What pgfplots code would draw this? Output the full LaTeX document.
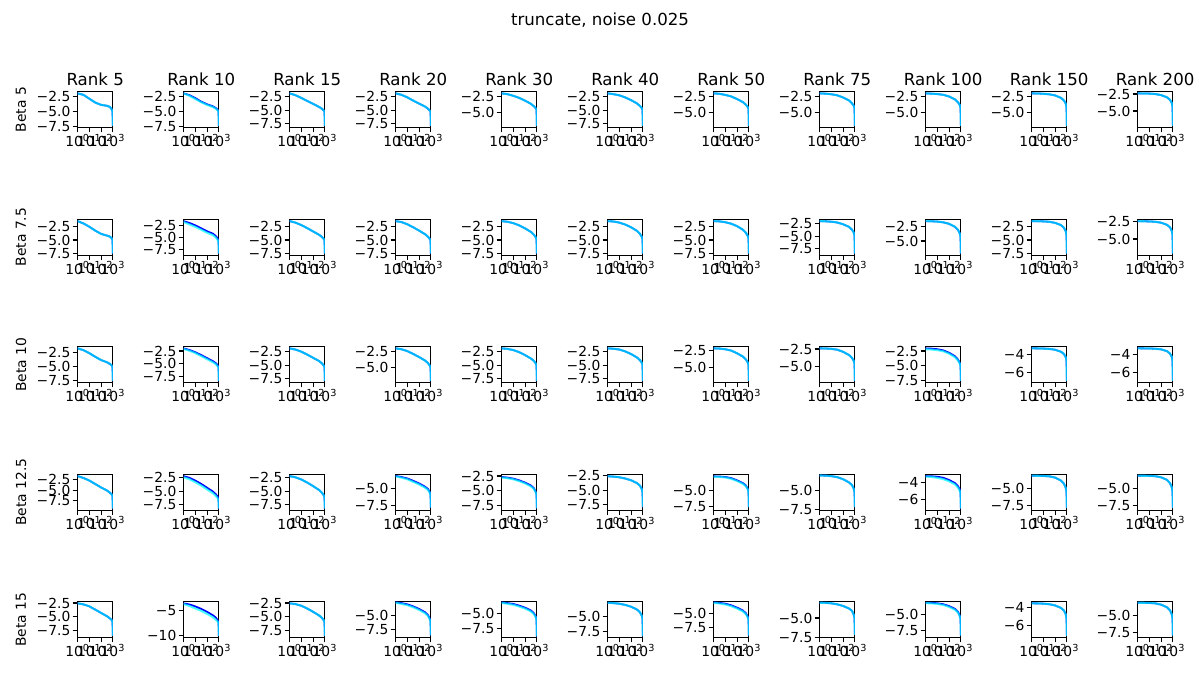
\documentclass[border=0pt]{standalone}
\usepackage{fontspec}
\setmainfont{DejaVu Sans}
\usepackage{pgfplots}
\usepackage{pgfplotstable}
\pgfplotsset{compat=1.18}
\def\pxu{0.7227pt}
\newcommand{\decfmt}[1]{−\pgfmathparse{0-(#1)}\pgfmathprintnumber[fixed,fixed zerofill,precision=1,assume math mode=true]{\pgfmathresult}}
\newcommand{\intfmt}[1]{−\pgfmathparse{0-(#1)}\pgfmathprintnumber[fixed,precision=0,assume math mode=true]{\pgfmathresult}}
\def\D{-10,-7.5,-5,-2.5}
\def\IA{-10,-5}
\def\IB{-8,-6,-4}
% #1 left, #2 top, #3 ymin, #4 ymax, #5 ticks, #6 fmt, #7 table, #8 blue col, #9 cyan col
\newcommand{\sub}[9]{\begin{axis}[anchor=north west, scale only axis, width=25.58pt, height=25.87pt,
    xmode=log, xmin=1, xmax=1000, xtick={1,10,100,1000},
    xticklabels={10\textsuperscript{0},10\textsuperscript{1},10\textsuperscript{2},10\textsuperscript{3}},
    xminorticks=false, yminorticks=false, minor tick length=0pt, minor tick style={draw=none},
    tick align=outside, tick pos=left,
    major tick length=3.5pt, major tick style={black, line width=0.8pt},
    axis line style={line width=0.8pt},
    ticklabel style={font=\fontsize{10}{12}\selectfont},
    xticklabel style={inner sep=1pt},
    yticklabel style={inner sep=1.5pt},
    scaled y ticks=false,
    ytick/.expanded={#5}, yticklabel={#6{\tick}},
    at={({#1*\pxu},{-#2*\pxu})}, ymin=#3, ymax=#4]
\addplot[color={rgb,255:red,0;green,0;blue,255}, line width=1.3pt, line join=round] table[x=x,y=#8] {#7};
\addplot[color={rgb,255:red,0;green,255;blue,255}, opacity=0.7, line width=1.5pt, line join=round] table[x=x,y=#9] {#7};
\end{axis}}

\pgfplotstableread{
x     b0    b1    c1    b2    b3    b4    b5    b6    b7    b8    b9    b10
1     -1.9  -1.9  -1.9  -1.83 -1.83 -1.93 -1.83 -1.93 -1.93 -1.93 -1.93 -2.40
3.162 -2.15 -2.2  -2.3  -2.17 -2.10 -2.06 -1.98 -2.00 -1.98 -1.98 -1.95 -2.42
10    -2.8  -2.7  -2.85 -2.68 -2.58 -2.32 -2.20 -2.18 -2.07 -2.04 -2.0  -2.44
31.62 -3.45 -3.3  -3.4  -3.25 -3.19 -2.65 -2.59 -2.42 -2.24 -2.16 -2.08 -2.50
100   -3.85 -3.75 -3.85 -3.80 -3.76 -3.09 -3.11 -2.84 -2.59 -2.43 -2.26 -2.66
316.2 -4.0  -4.1  -4.2  -4.37 -4.30 -3.60 -3.72 -3.33 -3.06 -2.89 -2.65 -2.99
562.3 -4.2  -4.4  -4.5  -4.71 -4.71 -3.99 -4.21 -3.75 -3.50 -3.35 -3.06 -3.35
794.3 -4.6  -4.7  -4.8  -5.05 -5.05 -4.29 -4.58 -4.09 -3.90 -3.76 -3.54 -3.78
933   -5.0  -4.95 -5.0  -5.22 -5.22 -4.5  -4.88 -4.39 -4.28 -4.22 -4.11 -4.37
1000  -7.39 -7.39 -7.39 -7.93 -7.93 -7.08 -7.93 -7.08 -7.08 -7.08 -7.08 -7.19
}\rA
\pgfplotstableread{
x     b0    b1    c1    b2    b3    b4    b5    b6    b7    b8    b9    b10
1     -1.58 -1.63 -1.8  -1.58 -1.58 -1.58 -1.58 -1.58 -2.09 -1.65 -1.58 -2.48
3.162 -2.0  -2.0  -2.3  -1.85 -1.75 -1.7  -1.65 -1.63 -2.12 -1.67 -1.6  -2.5
10    -2.6  -2.5  -2.8  -2.3  -2.15 -1.95 -1.85 -1.78 -2.2  -1.72 -1.63 -2.52
31.62 -3.3  -3.1  -3.4  -2.85 -2.7  -2.35 -2.2  -2.05 -2.35 -1.85 -1.7  -2.57
100   -3.9  -3.7  -4.0  -3.45 -3.3  -2.9  -2.7  -2.5  -2.7  -2.1  -1.9  -2.7
316.2 -4.2  -4.2  -4.5  -4.05 -3.95 -3.55 -3.35 -3.15 -3.2  -2.6  -2.3  -3.0
562.3 -4.4  -4.7  -5.0  -4.45 -4.4  -4.05 -3.9  -3.7  -3.75 -3.1  -2.8  -3.35
794.3 -4.7  -5.2  -5.5  -4.8  -4.8  -4.5  -4.4  -4.25 -4.3  -3.7  -3.4  -3.85
933   -5.0  -5.6  -5.9  -5.1  -5.1  -4.9  -4.85 -4.75 -4.9  -4.3  -4.2  -4.4
1000  -7.48 -8.27 -8.27 -7.48 -7.48 -7.48 -7.48 -7.48 -8.43 -7.15 -7.48 -7.06
}\rB
\pgfplotstableread{
x     b0    b1    c1    b2    b3    b4    b5    b6    b7    b8    c8    b9    b10
1     -1.67 -1.99 -2.1  -1.83 -1.96 -1.83 -1.83 -2.11 -2.41 -2.06 -2.2  -3.26 -3.26
3.162 -2.0  -2.3  -2.45 -2.05 -2.1  -1.93 -1.9  -2.15 -2.43 -2.1  -2.25 -3.27 -3.27
10    -2.55 -2.75 -2.9  -2.45 -2.4  -2.15 -2.05 -2.25 -2.48 -2.2  -2.35 -3.29 -3.28
31.62 -3.2  -3.3  -3.5  -3.0  -2.85 -2.55 -2.4  -2.45 -2.6  -2.4  -2.55 -3.33 -3.31
100   -3.8  -3.9  -4.1  -3.6  -3.35 -3.1  -2.9  -2.85 -2.9  -2.8  -2.95 -3.42 -3.38
316.2 -4.2  -4.5  -4.7  -4.2  -3.9  -3.75 -3.55 -3.35 -3.35 -3.4  -3.55 -3.65 -3.58
562.3 -4.5  -4.9  -5.1  -4.65 -4.3  -4.2  -4.05 -3.8  -3.75 -3.95 -4.1  -3.9  -3.85
794.3 -4.8  -5.3  -5.5  -5.05 -4.7  -4.65 -4.5  -4.2  -4.15 -4.5  -4.6  -4.25 -4.2
933   -5.1  -5.6  -5.8  -5.4  -5.0  -5.05 -4.95 -4.6  -4.6  -5.0  -5.1  -4.7  -4.7
1000  -7.57 -8.33 -8.33 -7.93 -7.14 -7.93 -7.93 -6.96 -7.0  -7.56 -7.56 -6.93 -6.93
}\rC
\pgfplotstableread{
x     b0    b1    c1    b2    b3    c3    b4    c4    b5    b6    c6    b7    b8    c8    b9    b10
1     -1.78 -2.29 -2.5  -2.29 -2.99 -3.05 -2.67 -2.75 -2.55 -2.83 -2.88 -2.98 -3.31 -3.35 -2.95 -2.95
3.162 -2.2  -2.6  -2.85 -2.5  -3.15 -3.25 -2.78 -2.88 -2.62 -2.86 -2.92 -3.0  -3.33 -3.4  -2.96 -2.96
10    -2.8  -3.1  -3.4  -2.9  -3.38 -3.5  -2.95 -3.07 -2.73 -2.93 -3.0  -3.07 -3.38 -3.5  -2.99 -2.98
31.62 -3.6  -3.7  -4.0  -3.45 -3.75 -3.9  -3.25 -3.38 -2.95 -3.1  -3.2  -3.2  -3.5  -3.65 -3.05 -3.03
100   -4.4  -4.4  -4.7  -4.1  -4.15 -4.3  -3.64 -3.78 -3.26 -3.44 -3.54 -3.47 -3.75 -3.9  -3.25 -3.2
316.2 -5.1  -5.1  -5.4  -4.8  -4.65 -4.8  -4.15 -4.3  -3.75 -3.87 -3.97 -3.9  -4.1  -4.25 -3.7  -3.6
562.3 -5.6  -5.6  -5.9  -5.3  -5.0  -5.15 -4.6  -4.72 -4.2  -4.25 -4.35 -4.25 -4.45 -4.6  -4.2  -4.1
794.3 -6.0  -6.0  -6.3  -5.75 -5.45 -5.55 -5.2  -5.3  -4.75 -4.72 -4.8  -4.72 -4.8  -4.95 -4.8  -4.7
933   -6.4  -6.4  -6.7  -6.2  -5.9  -6.0  -5.7  -5.8  -5.3  -5.2  -5.3  -5.2  -5.2  -5.3  -5.5  -5.4
1000  -9.28 -8.19 -8.19 -8.19 -7.9  -7.9  -8.03 -8.03 -7.95 -7.55 -7.55 -7.19 -6.99 -6.99 -7.95 -7.95
}\rD
\pgfplotstableread{
x     b0    b1    c1    b2    b3    c3    b4    c4    b5    b6    c6    b7    b8    c8    b9    b10
1     -2.56 -3.47 -3.6  -2.56 -2.7  -2.78 -3.17 -3.25 -2.72 -3.1  -3.18 -2.99 -3.05 -3.12 -3.48 -3.0
3.162 -2.75 -3.7  -4.0  -2.7  -2.85 -2.97 -3.3  -3.4  -2.78 -3.2  -3.3  -3.01 -3.08 -3.16 -3.49 -3.01
10    -3.1  -4.1  -4.5  -3.0  -3.06 -3.2  -3.45 -3.58 -2.88 -3.34 -3.47 -3.07 -3.15 -3.25 -3.52 -3.04
31.62 -3.7  -4.6  -5.0  -3.5  -3.42 -3.58 -3.72 -3.87 -3.08 -3.62 -3.77 -3.2  -3.3  -3.42 -3.58 -3.1
100   -4.3  -5.2  -5.6  -4.1  -3.88 -4.05 -4.07 -4.22 -3.38 -4.04 -4.2  -3.42 -3.6  -3.73 -3.72 -3.3
316.2 -4.9  -5.9  -6.3  -4.75 -4.45 -4.62 -4.55 -4.7  -3.85 -4.55 -4.7  -3.75 -4.05 -4.18 -4.0  -3.7
562.3 -5.3  -6.4  -6.8  -5.2  -4.95 -5.1  -5.0  -5.15 -4.3  -5.05 -5.2  -4.05 -4.5  -4.62 -4.3  -4.15
794.3 -5.6  -6.9  -7.2  -5.6  -5.55 -5.7  -5.5  -5.65 -4.85 -5.6  -5.75 -4.55 -5.1  -5.2  -4.7  -4.75
933   -5.9  -7.2  -7.5  -6.0  -6.1  -6.25 -6.1  -6.2  -5.4  -6.2  -6.3  -5.05 -5.7  -5.8  -5.2  -5.4
1000  -8.46 -10.07 -10.07 -8.46 -8.55 -8.55 -8.88 -8.88 -8.3 -8.94 -8.94 -7.19 -8.3  -8.3  -7.15 -8.0
}\rE

\begin{document}
\begin{tikzpicture}
\useasboundingbox (0,0) rectangle (867.24pt,-505.89pt);
\node[font=\fontsize{12}{14}\selectfont] at ({600*\pxu},{-20*\pxu}) {truncate, noise 0.025};
\foreach \t [count=\i from 0] in {5,10,15,20,30,40,50,75,100,150,200}
  \node[font=\fontsize{12}{14}\selectfont, anchor=base] at ({(95.2+106*\i)*\pxu},{-85*\pxu}) {Rank \t};
\foreach \b [count=\j from 0] in {5,7.5,10,12.5,15}
  \node[font=\fontsize{10}{12}\selectfont, rotate=90] at ({21*\pxu},{-(109.6+127.5*\j)*\pxu}) {Beta \b};
% Row 1
\sub{77.5}{91.7}{-7.67}{-1.62}{\D}{\decfmt}{\rA}{b0}{b0}
\sub{183.5}{91.7}{-7.67}{-1.62}{\D}{\decfmt}{\rA}{b1}{c1}
\sub{289.5}{91.7}{-8.24}{-1.52}{\D}{\decfmt}{\rA}{b2}{b2}
\sub{395.5}{91.7}{-8.24}{-1.52}{\D}{\decfmt}{\rA}{b3}{b3}
\sub{501.5}{91.7}{-7.34}{-1.67}{\D}{\decfmt}{\rA}{b4}{b4}
\sub{607.5}{91.7}{-8.24}{-1.52}{\D}{\decfmt}{\rA}{b5}{b5}
\sub{713.5}{91.7}{-7.34}{-1.67}{\D}{\decfmt}{\rA}{b6}{b6}
\sub{819.5}{91.7}{-7.34}{-1.67}{\D}{\decfmt}{\rA}{b7}{b7}
\sub{925.5}{91.7}{-7.34}{-1.67}{\D}{\decfmt}{\rA}{b8}{b8}
\sub{1031.5}{91.7}{-7.34}{-1.67}{\D}{\decfmt}{\rA}{b9}{b9}
\sub{1137.5}{91.7}{-7.43}{-2.16}{\D}{\decfmt}{\rA}{b10}{b10}
% Row 2
\sub{77.5}{219.5}{-7.77}{-1.29}{\D}{\decfmt}{\rB}{b0}{b0}
\sub{183.5}{219.5}{-8.6}{-1.3}{\D}{\decfmt}{\rB}{b1}{c1}
\sub{289.5}{219.5}{-7.77}{-1.29}{\D}{\decfmt}{\rB}{b2}{b2}
\sub{395.5}{219.5}{-7.77}{-1.29}{\D}{\decfmt}{\rB}{b3}{b3}
\sub{501.5}{219.5}{-7.77}{-1.29}{\D}{\decfmt}{\rB}{b4}{b4}
\sub{607.5}{219.5}{-7.77}{-1.29}{\D}{\decfmt}{\rB}{b5}{b5}
\sub{713.5}{219.5}{-7.77}{-1.29}{\D}{\decfmt}{\rB}{b6}{b6}
\sub{819.5}{219.5}{-8.75}{-1.77}{\D}{\decfmt}{\rB}{b7}{b7}
\sub{925.5}{219.5}{-7.42}{-1.37}{\D}{\decfmt}{\rB}{b8}{b8}
\sub{1031.5}{219.5}{-7.77}{-1.29}{\D}{\decfmt}{\rB}{b9}{b9}
\sub{1137.5}{219.5}{-7.29}{-2.25}{\D}{\decfmt}{\rB}{b10}{b10}
% Row 3
\sub{77.5}{346.7}{-7.86}{-1.38}{\D}{\decfmt}{\rC}{b0}{b0}
\sub{183.5}{346.7}{-8.65}{-1.67}{\D}{\decfmt}{\rC}{b1}{c1}
\sub{289.5}{346.7}{-8.24}{-1.52}{\D}{\decfmt}{\rC}{b2}{b2}
\sub{395.5}{346.7}{-7.4}{-1.7}{\D}{\decfmt}{\rC}{b3}{b3}
\sub{501.5}{346.7}{-8.24}{-1.52}{\D}{\decfmt}{\rC}{b4}{b4}
\sub{607.5}{346.7}{-8.24}{-1.52}{\D}{\decfmt}{\rC}{b5}{b5}
\sub{713.5}{346.7}{-7.2}{-1.87}{\D}{\decfmt}{\rC}{b6}{b6}
\sub{819.5}{346.7}{-7.22}{-2.18}{\D}{\decfmt}{\rC}{b7}{b7}
\sub{925.5}{346.7}{-7.83}{-1.78}{\D}{\decfmt}{\rC}{b8}{c8}
\sub{1031.5}{346.7}{-7.11}{-3.08}{\IB}{\intfmt}{\rC}{b9}{b9}
\sub{1137.5}{346.7}{-7.11}{-3.08}{\IB}{\intfmt}{\rC}{b10}{b10}
% Row 4
\sub{77.5}{474.5}{-9.66}{-1.41}{\D}{\decfmt}{\rD}{b0}{b0}
\sub{183.5}{474.5}{-8.48}{-2.0}{\D}{\decfmt}{\rD}{b1}{c1}
\sub{289.5}{474.5}{-8.48}{-2.0}{\D}{\decfmt}{\rD}{b2}{b2}
\sub{395.5}{474.5}{-8.3}{-2.77}{\D}{\decfmt}{\rD}{b3}{c3}
\sub{501.5}{474.5}{-8.38}{-2.25}{\D}{\decfmt}{\rD}{b4}{c4}
\sub{607.5}{474.5}{-8.5}{-2.25}{\D}{\decfmt}{\rD}{b5}{b5}
\sub{713.5}{474.5}{-8.02}{-2.55}{\D}{\decfmt}{\rD}{b6}{c6}
\sub{819.5}{474.5}{-7.6}{-2.85}{\D}{\decfmt}{\rD}{b7}{b7}
\sub{925.5}{474.5}{-7.17}{-3.13}{\IB}{\intfmt}{\rD}{b8}{c8}
\sub{1031.5}{474.5}{-8.3}{-2.77}{\D}{\decfmt}{\rD}{b9}{b9}
\sub{1137.5}{474.5}{-8.3}{-2.77}{\D}{\decfmt}{\rD}{b10}{b10}
% Row 5
\sub{77.5}{601.7}{-8.75}{-2.27}{\D}{\decfmt}{\rE}{b0}{b0}
\sub{183.5}{601.7}{-10.4}{-3.14}{\IA}{\intfmt}{\rE}{b1}{c1}
\sub{289.5}{601.7}{-8.75}{-2.27}{\D}{\decfmt}{\rE}{b2}{b2}
\sub{395.5}{601.7}{-8.91}{-2.6}{\D}{\decfmt}{\rE}{b3}{c3}
\sub{501.5}{601.7}{-9.05}{-3.07}{\D}{\decfmt}{\rE}{b4}{c4}
\sub{607.5}{601.7}{-8.48}{-2.55}{\D}{\decfmt}{\rE}{b5}{b5}
\sub{713.5}{601.7}{-9.29}{-2.99}{\D}{\decfmt}{\rE}{b6}{c6}
\sub{819.5}{601.7}{-7.55}{-2.86}{\D}{\decfmt}{\rE}{b7}{b7}
\sub{925.5}{601.7}{-8.6}{-2.9}{\D}{\decfmt}{\rE}{b8}{c8}
\sub{1031.5}{601.7}{-7.33}{-3.3}{\IB}{\intfmt}{\rE}{b9}{b9}
\sub{1137.5}{601.7}{-8.3}{-2.85}{\D}{\decfmt}{\rE}{b10}{b10}
\end{tikzpicture}
\end{document}
